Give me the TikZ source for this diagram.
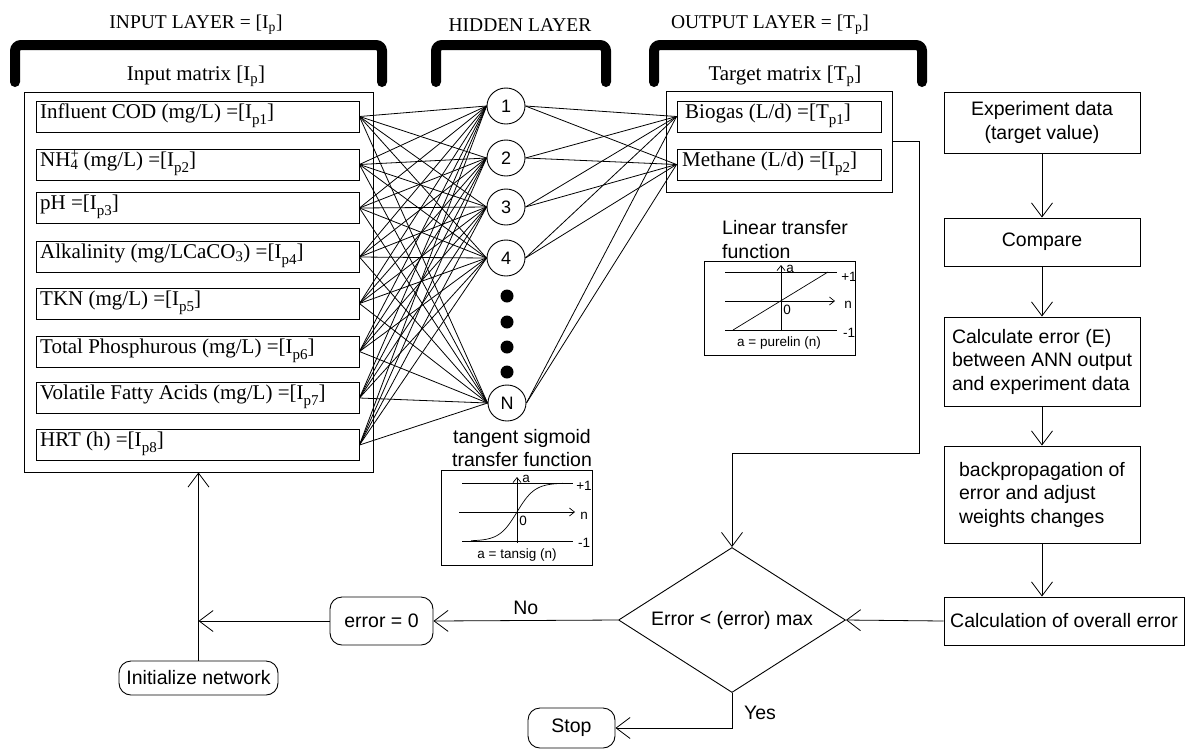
\documentclass[tikz,border=0pt]{standalone}
\usepackage{fontspec}
\setmainfont{Liberation Serif}
\setsansfont{Liberation Sans}
\usetikzlibrary{arrows.meta,shapes.geometric}
\newcommand\lowsub[1]{\raisebox{-6pt}{\fontsize{15}{15}\selectfont #1}}
\begin{document}
\begin{tikzpicture}[x=1pt,y=-1pt,
 ser/.style={font=\fontsize{21}{24}\selectfont, inner sep=0pt},
 sertitle/.style={font=\fontsize{19.5}{24}\selectfont, inner sep=0pt},
 san/.style={font=\sffamily\fontsize{19.5}{23.5}\selectfont},
 small/.style={font=\sffamily\fontsize{13.5}{16}\selectfont, inner sep=0.5pt},
 bracket/.style={line width=10pt, line cap=round, rounded corners=6pt},
 box/.style={draw, line width=0.9pt, inner sep=0pt},
 inbx/.style={box, minimum width=323pt, minimum height=31pt},
 outbx/.style={box, minimum width=204pt, minimum height=31pt},
 hid/.style={ellipse, draw, line width=0.9pt, minimum width=38pt, minimum height=36pt, inner sep=0pt, font=\sffamily\fontsize{18}{20}\selectfont},
 dot/.style={circle, fill, minimum size=13pt, inner sep=0pt},
 conn/.style={line width=0.8pt},
 flow/.style={box, san, align=left},
 rnd/.style={box, san, rounded corners=12pt},
 arr/.style={line width=0.8pt, -{Straight Barb[length=14pt,width=21pt]}},
 sarr/.style={line width=0.7pt, -{Straight Barb[length=5pt,width=8pt]}},
 thin/.style={line width=0.7pt}
]
\useasboundingbox (0,0) rectangle (1186,748);

% layer titles and brackets
\node[sertitle] (tin) at (196,25) {INPUT LAYER = [I\textsubscript{p}]};
\node[sertitle] (thid) at (520,25) {HIDDEN LAYER};
\node[sertitle] (tout) at (770,25) {OUTPUT LAYER = [T\textsubscript{p}]};
\draw[bracket] (15,82) -- (15,45) -- (382,45) -- (382,82);
\draw[bracket] (436,82) -- (436,45) -- (606,45) -- (606,82);
\draw[bracket] (654,82) -- (654,45) -- (922,45) -- (922,82);
\node[ser] (imat) at (196,76) {Input matrix [I\textsubscript{p}]};
\node[ser] (tmat) at (785,76) {Target matrix [T\textsubscript{p}]};

% input matrix
\node[box, minimum width=349pt, minimum height=380pt] (inbox) at (198.5,282) {};
\foreach \i/\y in {1/116.5,2/164.5,3/208,4/257,5/303.5,6/351.5,7/398,8/445}
  \node[inbx] (in\i) at (197.5,\y) {};
\node[ser, anchor=base west] (l1) at (40,118) {Influent COD (mg/L) =[I\lowsub{p1}]};
\node[ser, anchor=base west] (l2) at (40,166) {NH\rlap{\textsuperscript{+}}\textsubscript{4} (mg/L) =[I\lowsub{p2}]};
\node[ser, anchor=base west] (l3) at (40,209.5) {pH =[I\lowsub{p3}]};
\node[ser, anchor=base west] (l4) at (40,258.5) {Alkalinity (mg/LCaCO\textsubscript{3}) =[I\lowsub{p4}]};
\node[ser, anchor=base west] (l5) at (40,305) {TKN (mg/L) =[I\lowsub{p5}]};
\node[ser, anchor=base west] (l6) at (40,353) {Total Phosphurous (mg/L) =[I\lowsub{p6}]};
\node[ser, anchor=base west] (l7) at (40,399.5) {Volatile Fatty Acids (mg/L) =[I\lowsub{p7}]};
\node[ser, anchor=base west] (l8) at (40,446.5) {HRT (h) =[I\lowsub{p8}]};

% hidden layer
\node[hid] (h1) at (506,106) {1};
\node[hid] (h2) at (506,158) {2};
\node[hid] (h3) at (506,207) {3};
\node[hid] (h4) at (506,258) {4};
\node[hid] (hN) at (507,403) {N};
\foreach \k/\y in {1/296,2/322,3/347,4/372}
  \node[dot] (d\k) at (507,\y) {};

% output matrix
\node[box, minimum width=226pt, minimum height=101pt] (outbox) at (779,141.5) {};
\node[outbx] (o1) at (779,116.5) {};
\node[outbx] (o2) at (779,164.5) {};
\node[ser, anchor=base west] (lo1) at (685,118) {Biogas (L/d) =[T\lowsub{p1}]};
\node[ser, anchor=base west] (lo2) at (682,166) {Methane (L/d) =[I\lowsub{p2}]};

% connections
\foreach \i in {1,...,8}
  \foreach \h in {1,2,3,4,N}
    \draw[conn] (in\i.east) -- (h\h.west);
\foreach \h in {1,2,3,4,N}
  \foreach \o in {1,2}
    \draw[conn] (h\h.east) -- (o\o.west);

% tangent sigmoid transfer function
\node[san, align=center] (tsig) at (522,448) {tangent sigmoid\\transfer function};
\node[box, minimum width=151pt, minimum height=95pt] (tsbox) at (516.5,517.5) {};
\draw[thin] (462,483) -- (573,483);
\draw[thin] (462,541) -- (573,541);
\draw[sarr] (459,512) -- (575,512);
\draw[sarr] (517,543) -- (517,477);
\draw[thin] plot[domain=-1:1, samples=40] ({517+46*\x},{512-29*tanh(2.6*\x)});
\node[small] (tsa) at (526,479) {a};
\node[small] (tsp) at (584,486) {+1};
\node[small] (tsn) at (584,516) {n};
\node[small] (tsm) at (584,543) {-1};
\node[small] (tsz) at (523,521) {0};
\node[small] (tsf) at (517,555) {a = tansig (n)};

% linear transfer function
\node[san, align=left, anchor=west, inner sep=0pt] (lin) at (722,239.5) {Linear transfer\\function};
\node[box, minimum width=151pt, minimum height=94pt] (linbox) at (779.5,308) {};
\draw[thin] (725,272) -- (837,272);
\draw[thin] (725,330) -- (837,330);
\draw[sarr] (725,301) -- (835,301);
\draw[sarr] (781,330) -- (781,265);
\draw[thin] (733,330) -- (828,272);
\node[small] (lna) at (790,269) {a};
\node[small] (lnp) at (849,277) {+1};
\node[small] (lnn) at (848,305) {n};
\node[small] (lnm) at (849,333) {-1};
\node[small] (lnz) at (787,310) {0};
\node[small] (lnf) at (779,343) {a = purelin (n)};

% training flow
\node[flow, align=center, minimum width=196pt, minimum height=61pt] (exp) at (1042,122.5) {Experiment data\\(target value)};
\node[flow, minimum width=196pt, minimum height=48pt] (cmp) at (1042,242) {Compare};
\node[flow, minimum width=196pt, minimum height=89pt] (calc) at (1042,361.5) {Calculate error (E)\\between ANN output\\and experiment data};
\node[flow, minimum width=196pt, minimum height=97pt] (back) at (1042,494.5) {backpropagation of\\error and adjust\\weights changes};
\node[flow, minimum width=240pt, minimum height=48pt] (over) at (1064,621) {Calculation of overall error};
\draw[arr] (exp.south) -- (cmp.north);
\draw[arr] (cmp.south) -- (calc.north);
\draw[arr] (calc.south) -- (back.north);
\draw[arr] (back.south) -- (back.south |- over.north);

\node[diamond, draw, line width=0.9pt, minimum width=227pt, minimum height=145pt, aspect=1.566, inner sep=0pt, san] (dia) at (732,620) {Error < (error) max};
\draw[arr] (over.west) -- (dia.east);
\draw[arr] (outbox.east) -- (919,141.5) -- (919,453) -- (732,453) -- (dia.north);

\node[rnd, minimum width=103pt, minimum height=48pt] (err0) at (381.5,621) {error = 0};
\node[rnd, minimum width=159pt, minimum height=34pt] (init) at (198.5,678) {Initialize network};
\node[rnd, minimum width=87pt, minimum height=40pt] (stop) at (571.5,728) {Stop};

\draw[arr] (dia.west) -- (err0.east) node[midway, above=2pt, san] (no) {No};
\draw[arr] (err0.west) -- (init.north |- err0.west);
\draw[arr] (init.north) -- (init.north |- inbox.south);
\draw[arr] (dia.south) |- (stop.east);
\node[san] (yes) at (760,713) {Yes};
\end{tikzpicture}
\end{document}
